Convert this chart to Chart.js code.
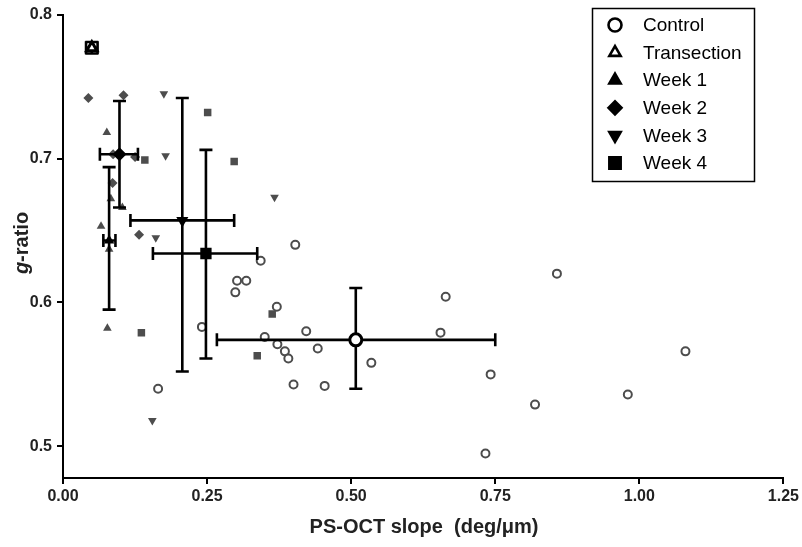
<!DOCTYPE html>
<html>
<head>
<meta charset="utf-8">
<script src="https://cdn.jsdelivr.net/npm/chart.js@4.4.1/dist/chart.umd.min.js"></script>
<style>
  html, body { margin: 0; padding: 0; background: #fff; }
  #wrap { width: 802px; height: 547px; position: relative; }
</style>
</head>
<body>
<div id="wrap"><canvas id="chart"></canvas></div>
<script>
// group names (legend order)
const groupNames = ['Control', 'Transection', 'Week 1', 'Week 2', 'Week 3', 'Week 4'];

// individual points per group
const controlX = [0.165, 0.403, 0.343, 0.302, 0.318, 0.299, 0.371, 0.241, 0.350, 0.422, 0.372, 0.385, 0.391,
                  0.442, 0.535, 0.400, 0.454, 0.664, 0.655, 0.742, 0.819, 0.733, 0.857, 1.080, 0.980];
const controlY = [0.540, 0.640, 0.629, 0.615, 0.615, 0.607, 0.597, 0.583, 0.576, 0.580, 0.571, 0.566, 0.561,
                  0.568, 0.558, 0.543, 0.542, 0.604, 0.579, 0.550, 0.529, 0.495, 0.620, 0.566, 0.536];
const week1X = [0.076, 0.083, 0.066, 0.080, 0.077, 0.103];
const week1Y = [0.718, 0.672, 0.653, 0.637, 0.582, 0.666];
const week2X = [0.044, 0.105, 0.086, 0.125, 0.087, 0.132];
const week2Y = [0.742, 0.744, 0.683, 0.701, 0.703, 0.647];
const week3X = [0.175, 0.178, 0.161, 0.155, 0.367];
const week3Y = [0.745, 0.702, 0.645, 0.518, 0.673];
const week4X = [0.142, 0.136, 0.251, 0.297, 0.363, 0.337];
const week4Y = [0.699, 0.579, 0.732, 0.698, 0.592, 0.563];

// group means and error bar ends (same order as groupNames)
const meanX = [0.508, 0.050, 0.080, 0.098, 0.207, 0.248];
const meanY = [0.574, 0.777, 0.643, 0.703, 0.657, 0.634];
const xLow  = [0.267, 0.040, 0.070, 0.064, 0.117, 0.156];
const xHigh = [0.750, 0.060, 0.091, 0.130, 0.297, 0.337];
const yLow  = [0.540, 0.773, 0.595, 0.666, 0.552, 0.561];
const yHigh = [0.610, 0.781, 0.694, 0.740, 0.742, 0.706];

const xTicks = [0, 0.25, 0.5, 0.75, 1.0, 1.25];
const yTicks = [0.5, 0.6, 0.7, 0.8];

const markerStyles = ['circle', 'triangle', 'triangle', 'rectRot', 'triangle', 'rect'];
const markerRotation = [0, 0, 0, 0, 180, 0];
const markerFilled = [false, false, true, true, true, true];

function pts(xs, ys) {
  return xs.map((x, i) => ({ x: x, y: ys[i] }));
}

const grey = '#4d4d4d';
const individual = [
  { data: pts(controlX, controlY), style: 'circle', rot: 0, r: 4, bg: '#fff', lw: 2 },
  { data: pts(week1X, week1Y), style: 'triangle', rot: 0, r: 5, bg: grey, lw: 0 },
  { data: pts(week2X, week2Y), style: 'rectRot', rot: 0, r: 5, bg: grey, lw: 0 },
  { data: pts(week3X, week3Y), style: 'triangle', rot: 180, r: 5, bg: grey, lw: 0 },
  { data: pts(week4X, week4Y), style: 'rect', rot: 0, r: 5.3, bg: grey, lw: 0 }
];
const meanRadius = [6, 6, 6, 7, 7, 8];

const datasets = [];
groupNames.forEach((name, i) => {
  datasets.push({
    label: name + ' mean',
    data: [{ x: meanX[i], y: meanY[i] }],
    pointStyle: markerStyles[i],
    rotation: markerRotation[i],
    pointRadius: meanRadius[i],
    backgroundColor: markerFilled[i] ? '#000' : '#fff',
    borderColor: '#000',
    borderWidth: markerFilled[i] ? 0 : 3,
    order: 0
  });
});
individual.forEach((s, i) => {
  datasets.push({
    label: 'points ' + i,
    data: s.data,
    pointStyle: s.style,
    rotation: s.rot,
    pointRadius: s.r,
    backgroundColor: s.bg,
    borderColor: grey,
    borderWidth: s.lw,
    order: 1
  });
});

// error bars, drawn just before the first mean marker
let barsDone = false;
const errorBars = {
  id: 'errorBars',
  beforeDatasetsDraw() { barsDone = false; },
  beforeDatasetDraw(chart, args) {
    if (barsDone || args.meta.order !== 0) return;
    barsDone = true;
    const ctx = chart.ctx, xs = chart.scales.x, ys = chart.scales.y;
    const cap = 6.5;
    ctx.save();
    ctx.strokeStyle = '#000';
    ctx.lineWidth = 2.6;
    ctx.lineCap = 'butt';
    meanX.forEach((mx, i) => {
      const px = xs.getPixelForValue(mx), py = ys.getPixelForValue(meanY[i]);
      const x0 = xs.getPixelForValue(xLow[i]), x1 = xs.getPixelForValue(xHigh[i]);
      const y0 = ys.getPixelForValue(yLow[i]), y1 = ys.getPixelForValue(yHigh[i]);
      ctx.beginPath();
      ctx.moveTo(x0, py); ctx.lineTo(x1, py);
      ctx.moveTo(x0, py - cap); ctx.lineTo(x0, py + cap);
      ctx.moveTo(x1, py - cap); ctx.lineTo(x1, py + cap);
      ctx.moveTo(px, y0); ctx.lineTo(px, y1);
      ctx.moveTo(px - cap, y0); ctx.lineTo(px + cap, y0);
      ctx.moveTo(px - cap, y1); ctx.lineTo(px + cap, y1);
      ctx.stroke();
    });
    ctx.restore();
  }
};

// boxed legend + axis titles
const extras = {
  id: 'extras',
  afterDraw(chart) {
    const ctx = chart.ctx;
    ctx.save();
    // legend box
    ctx.strokeStyle = '#000';
    ctx.lineWidth = 1.5;
    ctx.strokeRect(592.5, 8.5, 162, 173);
    ctx.font = '19px "Liberation Sans", Arial, sans-serif';
    ctx.fillStyle = '#000';
    ctx.textBaseline = 'middle';
    groupNames.forEach((name, i) => {
      const y = 25 + i * 27.6;
      ctx.fillStyle = markerFilled[i] ? '#000' : '#fff';
      ctx.strokeStyle = '#000';
      ctx.lineWidth = markerFilled[i] ? 0 : 2.6;
      Chart.helpers.drawPoint(ctx, {
        pointStyle: markerStyles[i],
        rotation: markerRotation[i],
        radius: markerStyles[i] === 'rect' ? 8 : 6.5,
        borderWidth: ctx.lineWidth
      }, 615, y);
      ctx.fillStyle = '#000';
      ctx.fillText(name, 643, y + 1);
    });
    // x title
    ctx.font = 'bold 20px "Liberation Sans", Arial, sans-serif';
    ctx.textAlign = 'center';
    ctx.textBaseline = 'middle';
    ctx.fillStyle = '#222';
    ctx.fillText('PS-OCT slope  (deg/\u03bcm)', 424, 527);
    // y title, italic g
    ctx.translate(22, 243);
    ctx.rotate(-Math.PI / 2);
    ctx.textAlign = 'left';
    const fItal = 'italic bold 20px "Liberation Sans", Arial, sans-serif';
    const fBold = 'bold 20px "Liberation Sans", Arial, sans-serif';
    ctx.font = fItal;
    const w1 = ctx.measureText('g').width;
    ctx.font = fBold;
    const w2 = ctx.measureText('-ratio').width;
    const start = -(w1 + w2) / 2;
    ctx.font = fItal;
    ctx.fillText('g', start, 0);
    ctx.font = fBold;
    ctx.fillText('-ratio', start + w1, 0);
    ctx.restore();
  }
};

const tickFont = { family: '"Liberation Sans", Arial, sans-serif', size: 16, weight: 'bold' };

new Chart(document.getElementById('chart'), {
  type: 'scatter',
  data: { datasets: datasets },
  options: {
    responsive: true,
    maintainAspectRatio: false,
    animation: false,
    layout: { padding: { top: 8, right: 18, left: 0, bottom: 0 } },
    plugins: {
      legend: { display: false },
      tooltip: { enabled: false }
    },
    scales: {
      x: {
        type: 'linear',
        min: 0,
        max: 1.25,
        afterBuildTicks: (s) => { s.ticks = xTicks.map(v => ({ value: v })); },
        afterFit: (s) => { s.height = 69; },
        ticks: { color: '#222', font: tickFont, padding: 3, callback: (v) => v.toFixed(2) },
        grid: { drawOnChartArea: false, drawTicks: true, tickLength: 6, color: '#000', lineWidth: 2 },
        border: { display: true, color: '#000', width: 2 }
      },
      y: {
        type: 'linear',
        min: 0.478,
        max: 0.8,
        afterBuildTicks: (s) => { s.ticks = yTicks.map(v => ({ value: v })); },
        afterFit: (s) => { s.width = 63; },
        ticks: { color: '#222', font: tickFont, padding: 5, callback: (v) => v.toFixed(1) },
        grid: { drawOnChartArea: false, drawTicks: true, tickLength: 6, color: '#000', lineWidth: 2 },
        border: { display: true, color: '#000', width: 2 }
      }
    }
  },
  plugins: [errorBars, extras]
});
</script>
</body>
</html>
